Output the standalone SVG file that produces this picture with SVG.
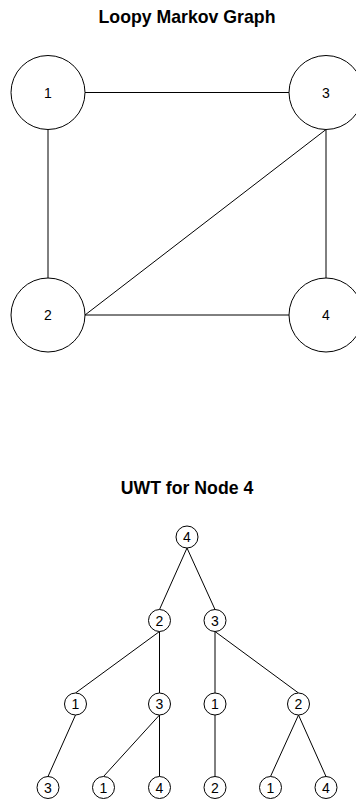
<svg xmlns="http://www.w3.org/2000/svg" width="356" height="801" viewBox="0 0 356 801">
<style>
.bg{fill:#ffffff}
.title{font-family:"Liberation Sans",Arial,sans-serif;font-size:17.7px;font-weight:bold;fill:#000;text-anchor:middle}
.lbl{font-family:"Liberation Sans",Arial,sans-serif;font-size:14px;fill:#000;text-anchor:middle}
.big{fill:#fff;stroke:#000;stroke-width:1}
.small{fill:#fff;stroke:#000;stroke-width:1}
.edge{stroke:#000;stroke-width:1;fill:none}
</style>
<rect class="bg" x="0" y="0" width="356" height="801"/>
<text class="title" x="187" y="22.5">Loopy Markov Graph</text>
<text class="title" x="187" y="494">UWT for Node 4</text>
<g id="connectors">
<line class="edge" x1="85" y1="92.5" x2="289" y2="92.5"/>
<line class="edge" x1="48" y1="129.5" x2="48" y2="278"/>
<line class="edge" x1="326" y1="129.5" x2="326" y2="278"/>
<line class="edge" x1="85" y1="315" x2="289" y2="315"/>
<line class="edge" x1="326" y1="129.5" x2="85" y2="315"/>
<line class="edge" x1="187" y1="548" x2="159.5" y2="609.5"/>
<line class="edge" x1="187" y1="548" x2="215" y2="609.5"/>
<line class="edge" x1="159.5" y1="631.5" x2="75.5" y2="693"/>
<line class="edge" x1="159.5" y1="631.5" x2="159.5" y2="693"/>
<line class="edge" x1="215" y1="631.5" x2="215" y2="693"/>
<line class="edge" x1="215" y1="631.5" x2="298.5" y2="693"/>
<line class="edge" x1="75.5" y1="715" x2="48" y2="776.5"/>
<line class="edge" x1="159.5" y1="715" x2="103.5" y2="776.5"/>
<line class="edge" x1="159.5" y1="715" x2="159.5" y2="776.5"/>
<line class="edge" x1="215" y1="715" x2="215" y2="776.5"/>
<line class="edge" x1="298.5" y1="715" x2="270.5" y2="776.5"/>
<line class="edge" x1="298.5" y1="715" x2="326" y2="776.5"/>
</g>
<g id="g1"><circle class="big" cx="48" cy="92.5" r="37"/><text class="lbl" x="48" y="97.5">1</text></g>
<g id="g3"><circle class="big" cx="326" cy="92.5" r="37"/><text class="lbl" x="326" y="97.5">3</text></g>
<g id="g2"><circle class="big" cx="48" cy="315" r="37"/><text class="lbl" x="48" y="320">2</text></g>
<g id="g4"><circle class="big" cx="326" cy="315" r="37"/><text class="lbl" x="326" y="320">4</text></g>
<g id="t_root"><circle class="small" cx="187" cy="537" r="11"/><text class="lbl" x="187" y="542">4</text></g>
<g id="t_2"><circle class="small" cx="159.5" cy="620.5" r="11"/><text class="lbl" x="159.5" y="625.5">2</text></g>
<g id="t_3"><circle class="small" cx="215" cy="620.5" r="11"/><text class="lbl" x="215" y="625.5">3</text></g>
<g id="t_2_1"><circle class="small" cx="75.5" cy="704" r="11"/><text class="lbl" x="75.5" y="709">1</text></g>
<g id="t_2_3"><circle class="small" cx="159.5" cy="704" r="11"/><text class="lbl" x="159.5" y="709">3</text></g>
<g id="t_3_1"><circle class="small" cx="215" cy="704" r="11"/><text class="lbl" x="215" y="709">1</text></g>
<g id="t_3_2"><circle class="small" cx="298.5" cy="704" r="11"/><text class="lbl" x="298.5" y="709">2</text></g>
<g id="t_2_1_3"><circle class="small" cx="48" cy="787.5" r="11"/><text class="lbl" x="48" y="792.5">3</text></g>
<g id="t_2_3_1"><circle class="small" cx="103.5" cy="787.5" r="11"/><text class="lbl" x="103.5" y="792.5">1</text></g>
<g id="t_2_3_4"><circle class="small" cx="159.5" cy="787.5" r="11"/><text class="lbl" x="159.5" y="792.5">4</text></g>
<g id="t_3_1_2"><circle class="small" cx="215" cy="787.5" r="11"/><text class="lbl" x="215" y="792.5">2</text></g>
<g id="t_3_2_1"><circle class="small" cx="270.5" cy="787.5" r="11"/><text class="lbl" x="270.5" y="792.5">1</text></g>
<g id="t_3_2_4"><circle class="small" cx="326" cy="787.5" r="11"/><text class="lbl" x="326" y="792.5">4</text></g>
</svg>
